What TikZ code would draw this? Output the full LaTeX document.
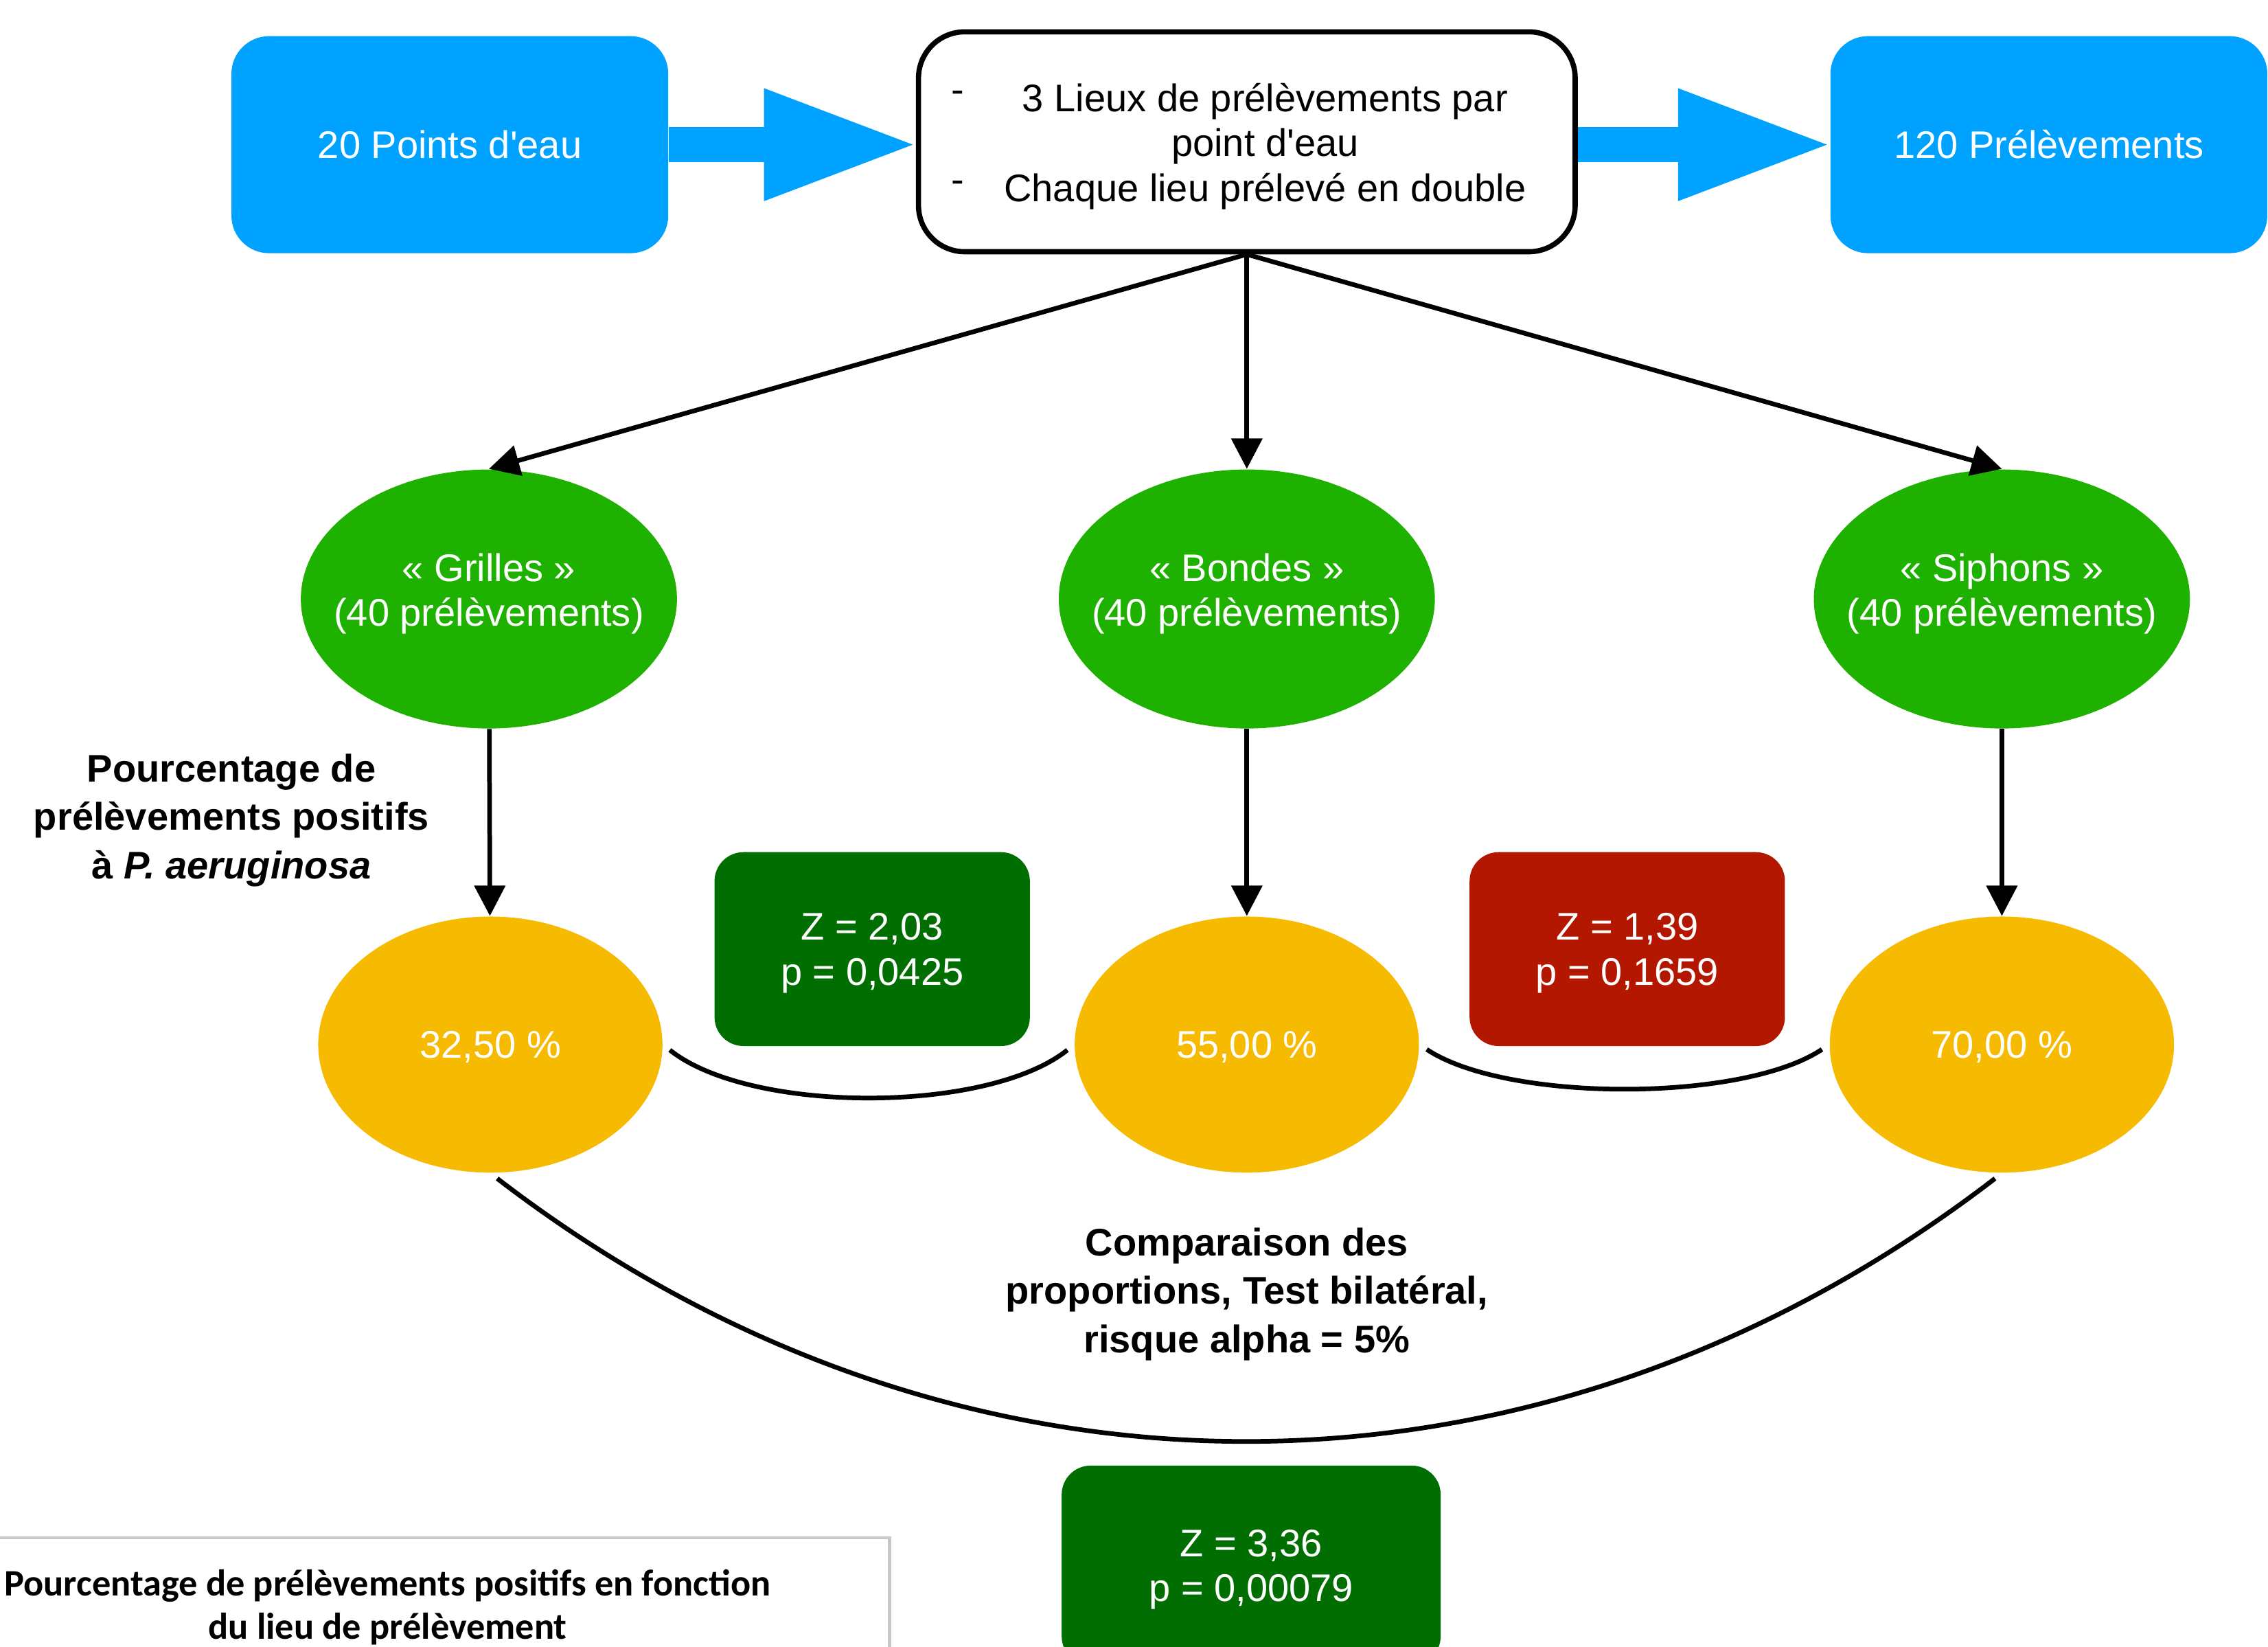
\documentclass[tikz,border=0pt]{standalone}
\usepackage{fontspec}
\setmainfont{Liberation Sans}
\newfontfamily\carlito{Carlito}
\usepackage{xcolor}
\definecolor{ptblue}{HTML}{00A2FF}
\definecolor{ptgreen}{HTML}{1FB100}
\definecolor{ptyellow}{HTML}{F6BA00}
\definecolor{ptdark}{HTML}{006E00}
\definecolor{ptred}{HTML}{B41700}
\definecolor{ptgray}{HTML}{C8C8C8}
\usepackage{tikz}
\usetikzlibrary{arrows.meta, shapes.geometric}

\begin{document}
\begin{tikzpicture}[x=0.5pt, y=-0.5pt,
    source/.style={rectangle, rounded corners=13pt, fill=ptblue, text=white,
                   minimum width=151pt, minimum height=75pt,
                   font=\fontsize{13.3}{15.5}\selectfont, align=center},
    plan/.style={rectangle, rounded corners=16pt, fill=white, draw=black,
                 line width=1.8pt, minimum width=227pt, minimum height=76pt,
                 inner sep=0pt, font=\fontsize{13.3}{15.5}\selectfont},
    site/.style={ellipse, fill=ptgreen, text=white, inner xsep=-10pt,
                 inner ysep=0pt, text depth=6.3pt,
                 minimum width=130pt, minimum height=89.5pt,
                 font=\fontsize{13.3}{15.5}\selectfont, align=center},
    rate/.style={ellipse, fill=ptyellow, text=white, inner sep=0pt,
                 text depth=0pt, minimum width=119pt, minimum height=88.5pt,
                 font=\fontsize{13.3}{15.5}\selectfont},
    stat/.style={rectangle, rounded corners=10pt, text=white, text depth=0pt,
                 minimum width=109pt, minimum height=67pt,
                 font=\fontsize{13.3}{15.5}\selectfont, align=center},
    note/.style={font=\bfseries\fontsize{13.3}{16.75}\selectfont, align=center},
    legend/.style={rectangle, draw=ptgray, line width=1pt, minimum width=347pt,
                   minimum height=48pt, align=center,
                   font=\carlito\bfseries\fontsize{12.9}{15}\selectfont},
    flow/.style={-{Triangle[length=10.5pt, width=10.5pt]}, line width=1.6pt},
    bigflow/.style={-{Triangle[length=54pt, width=35pt]}, ptblue,
                    line width=12pt, shorten >=-1.5pt},
    link/.style={line width=1.6pt, shorten <=3pt, shorten >=3pt}
  ]
    \useasboundingbox (0,0) rectangle (1568,1138);
    % Top row (y=100)
    \node[source] (pts) at (311,100) {20 Points d\textquotesingle eau};
    \node[plan]   (lieux) at (862,98)
      {\raisebox{-2pt}[\height][\depth]{%
       \begin{tabular}{@{}l@{\hspace{13.7pt}}c@{\hspace{5.5pt}}}
        \raisebox{3pt}{-} & 3 Lieux de prélèvements par\\
                          & point d\textquotesingle eau\\
        \raisebox{3pt}{-} & Chaque lieu prélevé en double
       \end{tabular}}};
    \node[source] (prl) at (1416.5,100) {120 Prélèvements};
    % Sampling sites (y=414)
    \node[site] (g1) at (338,414) {« Grilles »\\(40 prélèvements)};
    \node[site] (g2) at (862,414) {« Bondes »\\(40 prélèvements)};
    \node[site] (g3) at (1384,414) {« Siphons »\\(40 prélèvements)};
    % Positive rates (y=722)
    \node[rate] (y1) at (339,722) {32,50 \%};
    \node[rate] (y2) at (862,722) {55,00 \%};
    \node[rate] (y3) at (1384,722) {70,00 \%};
    % Test results
    \node[stat, fill=ptdark] (z12) at (603,656) {Z = 2,03\\p = 0,0425};
    \node[stat, fill=ptred]  (z23) at (1125,656) {Z = 1,39\\p = 0,1659};
    \node[stat, fill=ptdark, minimum width=131pt, minimum height=69pt] (z13)
      at (865,1082) {Z = 3,36\\p = 0,00079};
    % Notes
    \node[note] (pct) at (160,567)
      {Pourcentage de\\prélèvements positifs\\à \textit{P. aeruginosa}};
    \node[note] (test) at (862,894.5)
      {Comparaison des\\proportions, Test bilatéral,\\risque alpha = 5\%};
    \node[legend] (caption) at (268,1111)
      {Pourcentage de prélèvements positifs en fonction\\du lieu de prélèvement};
    % Arrows: top row
    \draw[bigflow] (pts.east) -- (pts.east -| lieux.west);
    \draw[bigflow] (lieux.east |- prl.west) -- (prl.west);
    % Arrows: plan -> sites
    \draw[flow] (lieux.south) -- (g1.north);
    \draw[flow] (lieux.south) -- (g2.north);
    \draw[flow] (lieux.south) -- (g3.north);
    % Arrows: sites -> rates
    \draw[flow] (g1) -- (y1);
    \draw[flow] (g2) -- (y2);
    \draw[flow] (g3) -- (y3);
    % Comparison links
    \draw[link] (y1.east) .. controls +(60,48) and +(-60,48) .. (y2.west);
    \draw[link] (y2.east) .. controls +(60,40) and +(-60,40) .. (y3.west);
    \draw[link] (y1.south) .. controls +(320,246) and +(-320,246) .. (y3.south);
  \end{tikzpicture}
\end{document}
